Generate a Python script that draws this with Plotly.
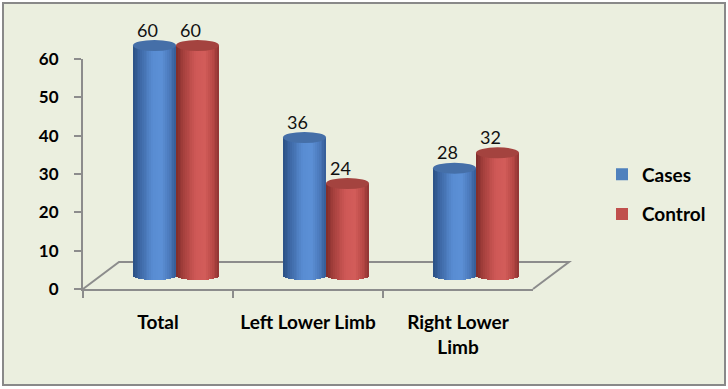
import numpy as np
import plotly.graph_objects as go

# ---------------- data ----------------
categories = ["Total", "Left Lower Limb", "Right Lower<br>Limb"]
series_names = ["Cases", "Control"]
cases = [60, 36, 28]
control = [60, 24, 32]
y_tick_vals = [0, 10, 20, 30, 40, 50, 60]

# ---------------- style ----------------
W, H = 728, 389
BG = "#EBEFDF"
LINE = "#8C8C8C"
FONT = "Lato, sans-serif"
LEGEND_COLORS = ["#4F81BD", "#C0504D"]
SHADE_STOPS = [
    [(-1.0, (42, 80, 132)), (-0.6, (64, 108, 170)), (-0.1, (88, 140, 210)),
     (0.35, (92, 144, 214)), (0.75, (72, 117, 182)), (1.0, (52, 92, 150))],
    [(-1.0, (126, 44, 42)), (-0.6, (170, 66, 63)), (-0.1, (206, 88, 86)),
     (0.35, (211, 93, 90)), (0.75, (180, 70, 67)), (1.0, (142, 52, 50))],
]
CAP_COLORS = ["#456FA8", "#A4433F"]

# front (visible) axes box in pixels
AX_L, AX_R = 83, 533
AX_T, AX_B = 59, 289
DEPTH_X, DEPTH_Y = 36, 27          # floor depth
BX, BY = DEPTH_X / 2, DEPTH_Y / 2  # bars stand at mid depth
YMAX = 60
ppu = (AX_B - AX_T) / YMAX         # pixels per unit
cat_px = (AX_R - AX_L) / 3         # pixels per category

def fx(px):
    return px / W

def fy(py):
    return 1 - py / H

# bar (inner) axes
Y2_LO, Y2_HI = -10, 65
bar0 = AX_B - BY
y2_dom = [fy(bar0 - Y2_LO * ppu), fy(bar0 - Y2_HI * ppu)]
x2_dom = [fx(AX_L + BX), fx(AX_R + BX)]

HALF_W = 21.5 / cat_px             # cylinder half width (x units)
CENTERS = [-HALF_W, HALF_W]        # cylinder centre offsets
CAP_H = 5.5 / ppu                  # top ellipse half height (y units)
BOT_H = 4.5 / ppu                  # bottom ellipse half height
N_STRIPS = 24

def shade(stops, u):
    for (u0, c0), (u1, c1) in zip(stops[:-1], stops[1:]):
        if u0 <= u <= u1:
            t = (u - u0) / (u1 - u0)
            c = [round(a + (b - a) * t) for a, b in zip(c0, c1)]
            return f"rgb({c[0]},{c[1]},{c[2]})"
    c = stops[-1][1]
    return f"rgb({c[0]},{c[1]},{c[2]})"

xpos = list(range(len(categories)))
fig = go.Figure()
all_series = [cases, control]

for s, vals in enumerate(all_series):
    c = CENTERS[s]
    fig.add_trace(go.Bar(
        x=xpos, y=vals, name=series_names[s], legendgroup=series_names[s],
        offset=c - HALF_W, width=2 * HALF_W,
        marker=dict(color=LEGEND_COLORS[s], line=dict(width=0)),
        xaxis="x2", yaxis="y2", showlegend=True, hoverinfo="skip"))
    sw = 2 * HALF_W / N_STRIPS
    for k in range(N_STRIPS):
        u = -1 + (2 * k + 1) / N_STRIPS
        b = -BOT_H * np.sqrt(max(0.0, 1 - u * u))
        fig.add_trace(go.Bar(
            x=xpos, y=[v - b for v in vals], base=[b] * len(vals),
            offset=c - HALF_W + k * sw, width=sw * 1.2,
            marker=dict(color=shade(SHADE_STOPS[s], u), line=dict(width=0)),
            xaxis="x2", yaxis="y2", showlegend=False, legendgroup=series_names[s],
            hoverinfo="skip"))

shapes = []
shapes.append(dict(type="rect", xref="paper", yref="paper",
                   x0=fx(3), x1=fx(725), y0=fy(385), y1=fy(3),
                   fillcolor=BG, line=dict(color="#898989", width=2), layer="below"))
floor = (f"M {fx(AX_L)},{fy(AX_B)} L {fx(AX_L + DEPTH_X)},{fy(AX_B - DEPTH_Y)} "
         f"L {fx(AX_R + DEPTH_X)},{fy(AX_B - DEPTH_Y)} L {fx(AX_R)},{fy(AX_B)}")
shapes.append(dict(type="path", xref="paper", yref="paper", path=floor,
                   line=dict(color=LINE, width=2), layer="below"))
annotations = []
for s, vals in enumerate(all_series):
    for i, v in zip(xpos, vals):
        xc = i + CENTERS[s]
        shapes.append(dict(type="circle", xref="x2", yref="y2",
                           x0=xc - HALF_W, x1=xc + HALF_W, y0=v - CAP_H, y1=v + CAP_H,
                           fillcolor=CAP_COLORS[s], line=dict(width=0), layer="above"))
        annotations.append(dict(x=xc, y=v, xref="x2", yref="y2", text=str(v),
                                showarrow=False, xshift=-7, yshift=16,
                                font=dict(size=18, color="#111111", family=FONT)))

fig.add_trace(go.Scatter(x=categories, y=[None] * 3, mode="markers",
                         showlegend=False, hoverinfo="skip", xaxis="x", yaxis="y"))

fig.update_layout(
    width=W, height=H, autosize=False,
    margin=dict(l=0, r=0, t=0, b=0, pad=0, autoexpand=False),
    paper_bgcolor="white", plot_bgcolor="rgba(0,0,0,0)",
    barmode="overlay", bargap=0,
    font=dict(family=FONT, color="#000000"),
    xaxis=dict(domain=[fx(AX_L), fx(AX_R)], type="category",
               categoryorder="array", categoryarray=categories,
               range=[-0.5, 2.5], tickson="boundaries", ticks="outside",
               ticklen=7, tickwidth=2, tickcolor=LINE,
               showline=True, linecolor=LINE, linewidth=2, showgrid=False,
               zeroline=False, ticklabelstandoff=15, automargin=False,
               tickfont=dict(size=19, weight="bold", family=FONT, color="#000"),
               anchor="y", fixedrange=True),
    yaxis=dict(domain=[fy(AX_B), fy(AX_T)], range=[0, YMAX],
               tickvals=y_tick_vals, ticks="outside", ticklen=7, tickwidth=2,
               tickcolor=LINE, showline=True, linecolor=LINE, linewidth=2,
               showgrid=False, zeroline=False, ticklabelstandoff=12, automargin=False,
               tickfont=dict(size=17, weight="bold", family=FONT, color="#000"),
               anchor="x", fixedrange=True),
    xaxis2=dict(domain=x2_dom, range=[-0.5, 2.5], visible=False, anchor="y2",
                fixedrange=True, automargin=False),
    yaxis2=dict(domain=y2_dom, range=[Y2_LO, Y2_HI], visible=False, anchor="x2",
                fixedrange=True, automargin=False),
    legend=dict(x=fx(602), y=fy(194.5), xanchor="left", yanchor="middle",
                bgcolor="rgba(0,0,0,0)", tracegroupgap=12,
                font=dict(size=19, weight="bold", family=FONT, color="#000")),
    shapes=shapes, annotations=annotations,
)

fig.write_html("out.html", config={"displayModeBar": False, "staticPlot": True},
               post_script="document.body.style.margin='0';"
                           "document.body.style.overflow='hidden';")
